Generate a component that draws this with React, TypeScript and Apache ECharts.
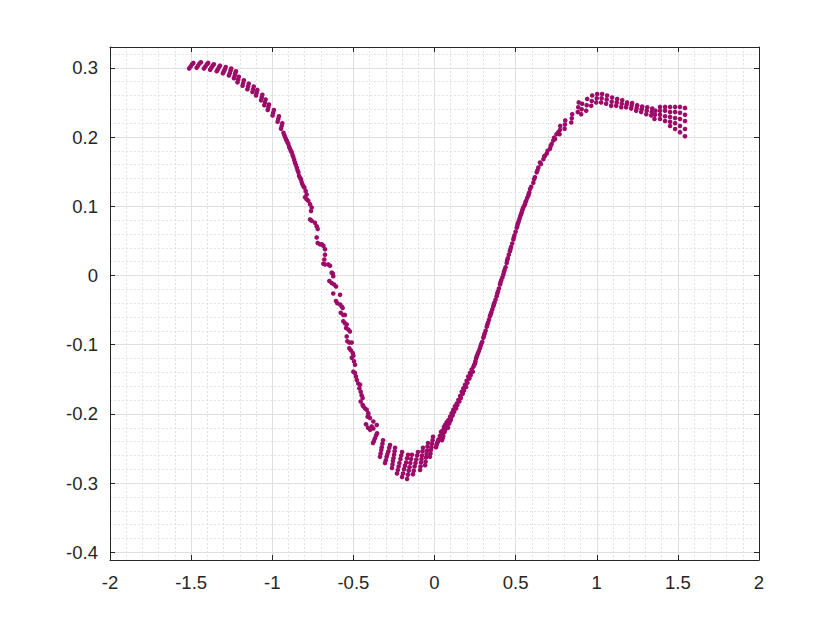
import React, { useEffect, useRef } from "react";
import * as echarts from "echarts";

// ---- axis settings ----
const xMin = -2;
const xMax = 2;
const xStep = 0.5;
const yMin = -0.411;
const yMax = 0.33;

// ---- data (x, y) ----
const plateau: number[][] = [
  [-1.512, 0.299], [-1.503, 0.302], [-1.494, 0.305], [-1.486, 0.307],
  [-1.466, 0.3], [-1.457, 0.303], [-1.448, 0.306], [-1.44, 0.308],
  [-1.421, 0.299], [-1.412, 0.302], [-1.403, 0.305], [-1.395, 0.307],
  [-1.383, 0.297], [-1.375, 0.3], [-1.367, 0.303], [-1.36, 0.305],
  [-1.342, 0.295], [-1.335, 0.298], [-1.328, 0.301], [-1.322, 0.303],
  [-1.304, 0.292], [-1.298, 0.295], [-1.292, 0.298], [-1.287, 0.301],
  [-1.267, 0.289], [-1.262, 0.292], [-1.257, 0.296], [-1.253, 0.299],
  [-1.236, 0.285], [-1.232, 0.288], [-1.228, 0.292], [-1.224, 0.295],
  [-1.214, 0.279], [-1.21, 0.283], [-1.206, 0.287],
  [-1.183, 0.274], [-1.179, 0.278], [-1.175, 0.282],
  [-1.153, 0.269], [-1.149, 0.273], [-1.145, 0.277],
  [-1.122, 0.265], [-1.118, 0.269], [-1.114, 0.273],
  [-1.1, 0.26], [-1.096, 0.264], [-1.092, 0.268],
  [-1.069, 0.253], [-1.065, 0.257], [-1.061, 0.261],
  [-1.049, 0.246], [-1.045, 0.25], [-1.041, 0.254],
  [-1.028, 0.239], [-1.024, 0.243], [-1.02, 0.247],
  [-0.998, 0.231], [-0.994, 0.235], [-0.99, 0.239],
  [-0.967, 0.222], [-0.963, 0.226], [-0.959, 0.23],
  [-0.946, 0.212], [-0.942, 0.216], [-0.938, 0.22],
];

const descent: number[][] = [
  [-0.931, 0.206], [-0.926, 0.203],
  [-0.921, 0.2], [-0.916, 0.197], [-0.911, 0.195], [-0.906, 0.192], [-0.901, 0.19], [-0.896, 0.186],
  [-0.891, 0.183], [-0.885, 0.18], [-0.88, 0.178], [-0.875, 0.174], [-0.87, 0.171], [-0.865, 0.167],
  [-0.86, 0.163], [-0.855, 0.16], [-0.849, 0.156], [-0.844, 0.152], [-0.839, 0.149], [-0.835, 0.144],
  [-0.829, 0.141], [-0.823, 0.139], [-0.819, 0.135], [-0.815, 0.132], [-0.808, 0.129], [-0.802, 0.127],
  [-0.794, 0.122], [-0.788, 0.117],
  [-0.798, 0.113], [-0.788, 0.11], [-0.778, 0.108], [-0.767, 0.103], [-0.757, 0.098],
  [-0.761, 0.093], [-0.767, 0.081], [-0.757, 0.079], [-0.737, 0.076], [-0.726, 0.071],
  [-0.72, 0.067], [-0.726, 0.055], [-0.72, 0.047], [-0.706, 0.045], [-0.695, 0.045],
  [-0.685, 0.043], [-0.675, 0.038], [-0.675, 0.03], [-0.679, 0.023], [-0.685, 0.017],
  [-0.675, 0.016], [-0.655, 0.016], [-0.644, 0.014], [-0.634, 0.004], [-0.627, 0.003],
  [-0.624, -0.001], [-0.648, -0.008], [-0.634, -0.011], [-0.619, -0.013], [-0.607, -0.016],
  [-0.624, -0.026], [-0.582, -0.028], [-0.607, -0.037], [-0.599, -0.04], [-0.582, -0.042],
  [-0.572, -0.045], [-0.566, -0.047], [-0.578, -0.054], [-0.562, -0.057], [-0.552, -0.057],
  [-0.562, -0.066], [-0.552, -0.069], [-0.541, -0.071], [-0.545, -0.076], [-0.531, -0.078],
  [-0.521, -0.081], [-0.541, -0.088], [-0.537, -0.095], [-0.525, -0.097], [-0.51, -0.097],
  [-0.525, -0.105], [-0.516, -0.108], [-0.504, -0.112], [-0.5, -0.116], [-0.51, -0.119],
  [-0.496, -0.124], [-0.49, -0.129], [-0.5, -0.139], [-0.49, -0.141], [-0.484, -0.146],
  [-0.479, -0.151], [-0.47, -0.156], [-0.459, -0.158], [-0.463, -0.163], [-0.455, -0.168],
  [-0.449, -0.173], [-0.443, -0.177], [-0.455, -0.182], [-0.443, -0.187], [-0.439, -0.189],
  [-0.428, -0.192], [-0.418, -0.194], [-0.408, -0.199], [-0.408, -0.203], [-0.412, -0.204],
  [-0.398, -0.206], [-0.377, -0.211], [-0.356, -0.216], [-0.387, -0.218], [-0.377, -0.221],
  [-0.422, -0.215], [-0.41, -0.22], [-0.397, -0.223],
];

const trough: number[][] = [
  [-0.379, -0.242], [-0.373, -0.239], [-0.367, -0.235], [-0.36, -0.231], [-0.354, -0.228],
  [-0.336, -0.262], [-0.332, -0.257], [-0.328, -0.252], [-0.325, -0.248], [-0.321, -0.243], [-0.317, -0.238],
  [-0.305, -0.271], [-0.3, -0.267], [-0.295, -0.262], [-0.29, -0.258], [-0.284, -0.254], [-0.279, -0.249], [-0.274, -0.245],
  [-0.262, -0.278], [-0.259, -0.273], [-0.256, -0.268], [-0.253, -0.264], [-0.249, -0.259], [-0.246, -0.254], [-0.243, -0.249],
  [-0.231, -0.286], [-0.226, -0.281], [-0.221, -0.276], [-0.216, -0.271], [-0.21, -0.265], [-0.205, -0.26], [-0.2, -0.255],
  [-0.2, -0.291], [-0.194, -0.286], [-0.188, -0.28], [-0.182, -0.275], [-0.175, -0.27], [-0.169, -0.264], [-0.163, -0.259],
  [-0.169, -0.294], [-0.164, -0.288], [-0.159, -0.282], [-0.154, -0.277], [-0.149, -0.271], [-0.144, -0.265], [-0.139, -0.259],
  [-0.133, -0.287], [-0.128, -0.282], [-0.123, -0.276], [-0.117, -0.271], [-0.112, -0.266], [-0.107, -0.26], [-0.102, -0.255],
  [-0.089, -0.281], [-0.086, -0.276], [-0.083, -0.27], [-0.08, -0.265], [-0.077, -0.26], [-0.074, -0.254], [-0.071, -0.249],
  [-0.058, -0.274], [-0.055, -0.269], [-0.052, -0.263], [-0.049, -0.258], [-0.046, -0.253], [-0.043, -0.247], [-0.04, -0.242],
  [-0.028, -0.262], [-0.025, -0.257], [-0.022, -0.252], [-0.019, -0.248], [-0.015, -0.243], [-0.012, -0.238], [-0.009, -0.233],
  [0.009, -0.248], [0.013, -0.245], [0.017, -0.242], [0.021, -0.24], [0.025, -0.237], [0.033, -0.232], [0.04, -0.226],
  [0.046, -0.238], [0.05, -0.235], [0.054, -0.232], [0.062, -0.226], [0.066, -0.223], [0.07, -0.22], [0.077, -0.214],
  [0.083, -0.22], [0.091, -0.214], [0.099, -0.209], [0.107, -0.203], [0.114, -0.197],
];

const ascent: number[][] = [
  [0.04, -0.231], [0.044, -0.226], [0.05, -0.224], [0.052, -0.228], [0.058, -0.219], [0.06, -0.222],
  [0.065, -0.216], [0.071, -0.219], [0.075, -0.212], [0.079, -0.215], [0.085, -0.209], [0.092, -0.211],
  [0.096, -0.204], [0.1, -0.207], [0.106, -0.199], [0.112, -0.202], [0.116, -0.194], [0.121, -0.197],
  [0.126, -0.189], [0.133, -0.192], [0.137, -0.185], [0.141, -0.187], [0.147, -0.18], [0.153, -0.182],
  [0.158, -0.174], [0.162, -0.177], [0.168, -0.168], [0.174, -0.171], [0.178, -0.163], [0.182, -0.166],
  [0.188, -0.158], [0.195, -0.161], [0.198, -0.152], [0.203, -0.155], [0.208, -0.146], [0.215, -0.149],
  [0.219, -0.141], [0.223, -0.144], [0.229, -0.136], [0.236, -0.139], [0.24, -0.132], [0.245, -0.129],
  [0.25, -0.127], [0.252, -0.124], [0.256, -0.12], [0.26, -0.117], [0.264, -0.115], [0.268, -0.112],
  [0.274, -0.109], [0.28, -0.105], [0.284, -0.102], [0.288, -0.099], [0.294, -0.096], [0.301, -0.09],
  [0.305, -0.087], [0.309, -0.084], [0.315, -0.08], [0.322, -0.074], [0.326, -0.071], [0.33, -0.068],
  [0.336, -0.064], [0.342, -0.059], [0.346, -0.056], [0.35, -0.053], [0.356, -0.049], [0.362, -0.045],
  [0.366, -0.042], [0.37, -0.039], [0.376, -0.035], [0.383, -0.03], [0.387, -0.026], [0.391, -0.023],
  [0.397, -0.019], [0.404, -0.013], [0.407, -0.01], [0.411, -0.007], [0.418, -0.003], [0.424, 0.001],
  [0.428, 0.005], [0.432, 0.008], [0.438, 0.012], [0.445, 0.018], [0.448, 0.022], [0.452, 0.025],
  [0.458, 0.03], [0.465, 0.035], [0.468, 0.038], [0.472, 0.041], [0.479, 0.046], [0.486, 0.052],
  [0.489, 0.055], [0.493, 0.058], [0.5, 0.063], [0.507, 0.069], [0.51, 0.071], [0.512, 0.074],
  [0.516, 0.076], [0.52, 0.079], [0.524, 0.082], [0.528, 0.085], [0.533, 0.088], [0.537, 0.091],
  [0.541, 0.094], [0.545, 0.097], [0.551, 0.1], [0.558, 0.103], [0.561, 0.106], [0.565, 0.108],
  [0.571, 0.112], [0.578, 0.115], [0.581, 0.118], [0.584, 0.12],
];

const crest: number[][] = [
  [0.589, 0.125], [0.596, 0.128], [0.609, 0.134], [0.614, 0.139], [0.619, 0.142],
  [0.63, 0.149], [0.635, 0.152], [0.64, 0.156], [0.65, 0.163], [0.656, 0.161],
  [0.671, 0.168], [0.676, 0.172], [0.681, 0.173], [0.692, 0.176], [0.697, 0.18],
  [0.712, 0.183], [0.716, 0.187], [0.722, 0.19], [0.732, 0.195], [0.737, 0.199],
  [0.743, 0.197], [0.752, 0.204], [0.763, 0.207],
  [0.771, 0.204], [0.773, 0.21], [0.775, 0.216],
  [0.802, 0.212], [0.804, 0.218], [0.806, 0.224],
  [0.843, 0.221], [0.846, 0.227], [0.849, 0.233],
  [0.883, 0.236], [0.886, 0.243], [0.889, 0.25],
  [0.904, 0.233], [0.907, 0.24], [0.91, 0.248],
  [0.935, 0.238], [0.938, 0.246], [0.941, 0.255],
  [0.966, 0.245], [0.969, 0.252], [0.972, 0.26],
  [0.997, 0.25], [1.0, 0.256], [1.003, 0.262],
  [1.027, 0.25], [1.03, 0.256], [1.033, 0.262],
  [1.058, 0.248], [1.061, 0.254], [1.064, 0.26],
  [1.089, 0.245], [1.092, 0.251], [1.095, 0.257],
  [1.12, 0.245], [1.123, 0.25], [1.126, 0.255],
  [1.151, 0.243], [1.154, 0.248], [1.157, 0.253],
  [1.181, 0.243], [1.184, 0.247], [1.187, 0.25],
  [1.212, 0.241], [1.215, 0.245], [1.218, 0.249],
  [1.243, 0.238], [1.246, 0.242], [1.249, 0.246],
  [1.274, 0.236], [1.277, 0.24], [1.28, 0.244],
  [1.305, 0.233], [1.308, 0.238], [1.311, 0.243],
  [1.336, 0.231], [1.339, 0.236], [1.342, 0.241],
  [1.356, 0.226], [1.359, 0.232], [1.362, 0.238],
];

const fan: number[][] = [
  [1.39, 0.2435], [1.39, 0.238], [1.39, 0.232], [1.39, 0.226],
  [1.421, 0.2435], [1.421, 0.238], [1.421, 0.23], [1.421, 0.223],
  [1.452, 0.2435], [1.452, 0.236], [1.452, 0.229], [1.452, 0.222], [1.452, 0.216],
  [1.483, 0.2435], [1.483, 0.236], [1.483, 0.2275], [1.483, 0.22], [1.483, 0.2115],
  [1.513, 0.2435], [1.513, 0.235], [1.513, 0.226], [1.513, 0.216], [1.513, 0.207],
  [1.544, 0.242], [1.544, 0.232], [1.544, 0.223], [1.544, 0.2115], [1.544, 0.201],
];

const allPoints = [...plateau, ...descent, ...trough, ...ascent, ...crest, ...fan];

const AXIS_COLOR = "#262626";
const FONT = "'Liberation Sans', Arial, Helvetica, sans-serif";
const LABEL_SIZE = 18.5;

function yLabel(v: number): string {
  const t = v * 10;
  if (Math.abs(t - Math.round(t)) > 1e-6) return "";
  const r = Math.round(t) / 10;
  return String(r);
}

export default function App() {
  const ref = useRef<HTMLDivElement>(null);

  useEffect(() => {
    if (!ref.current) return;
    const chart = echarts.init(ref.current, null, { renderer: "svg" });
    const majorSplit = { show: true, lineStyle: { color: "#dfdfdf", width: 1 } };
    const minorSplit = { show: true, lineStyle: { color: "#e3e3e3", width: 1, type: [2, 2] as any } };
    chart.setOption({
      animation: false,
      backgroundColor: "#ffffff",
      textStyle: { fontFamily: FONT },
      grid: { left: 110, right: 81, top: 47, bottom: 70, containLabel: false },
      xAxis: [
        {
          type: "value",
          min: xMin,
          max: xMax,
          interval: xStep,
          axisLine: { show: true, onZero: false, lineStyle: { color: AXIS_COLOR, width: 1 } },
          axisTick: { show: true, inside: true, length: 5, lineStyle: { color: AXIS_COLOR } },
          axisLabel: { show: true, margin: 13, fontSize: LABEL_SIZE, color: AXIS_COLOR, fontFamily: FONT },
          splitLine: majorSplit,
          minorTick: { show: false, splitNumber: 5 },
          minorSplitLine: minorSplit,
        },
        {
          type: "value",
          position: "top",
          min: xMin,
          max: xMax,
          interval: xStep,
          axisLine: { show: true, onZero: false, lineStyle: { color: AXIS_COLOR, width: 1 } },
          axisTick: { show: true, inside: true, length: 5, lineStyle: { color: AXIS_COLOR } },
          axisLabel: { show: false },
          splitLine: { show: false },
        },
      ],
      yAxis: [
        {
          type: "value",
          min: yMin,
          max: yMax,
          splitNumber: 7,
          axisLine: { show: true, onZero: false, lineStyle: { color: AXIS_COLOR, width: 1 } },
          axisTick: { show: true, inside: true, length: 5, lineStyle: { color: AXIS_COLOR } },
          axisLabel: {
            show: true,
            margin: 12,
            fontSize: LABEL_SIZE,
            color: AXIS_COLOR,
            fontFamily: FONT,
            formatter: yLabel,
          },
          splitLine: majorSplit,
          minorTick: { show: false, splitNumber: 5 },
          minorSplitLine: minorSplit,
        },
        {
          type: "value",
          position: "right",
          min: yMin,
          max: yMax,
          splitNumber: 7,
          axisLine: { show: true, onZero: false, lineStyle: { color: AXIS_COLOR, width: 1 } },
          axisTick: { show: true, inside: true, length: 5, lineStyle: { color: AXIS_COLOR } },
          axisLabel: { show: false },
          splitLine: { show: false },
        },
      ],
      series: [
        {
          type: "scatter",
          xAxisIndex: 0,
          yAxisIndex: 0,
          data: allPoints,
          symbol: "circle",
          symbolSize: 4.6,
          itemStyle: { color: "#9d0b69", opacity: 1 },
          silent: true,
        },
      ],
    });
    return () => chart.dispose();
  }, []);

  return (
    <div
      ref={ref}
      style={{ position: "fixed", left: 0, top: 0, width: 840, height: 630, background: "#fff" }}
    />
  );
}
